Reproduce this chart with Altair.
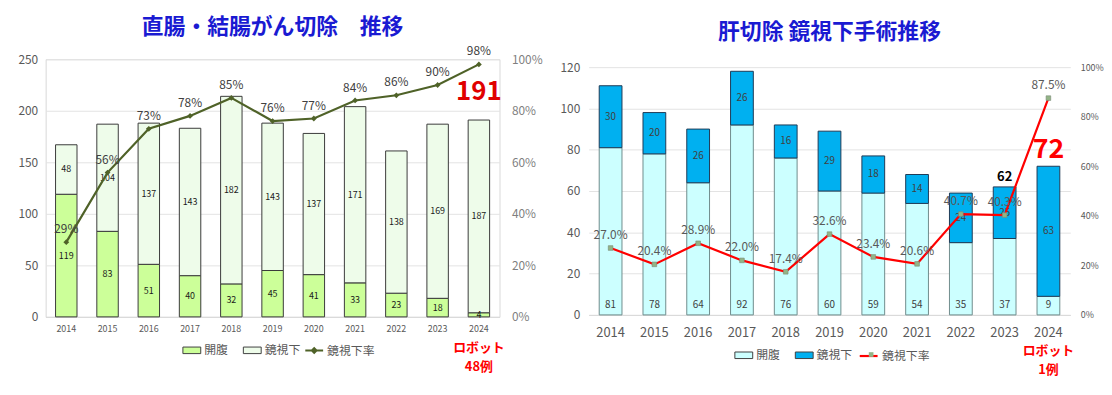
import altair as alt
import pandas as pd

FONT = "Noto Sans CJK JP"

years = ["2014", "2015", "2016", "2017", "2018", "2019", "2020", "2021", "2022", "2023", "2024"]
series = ["開腹", "鏡視下"]
rate_name = "鏡視下率"
marker_key = "marker"

# 直腸・結腸がん切除
colo_open = [119, 83, 51, 40, 32, 45, 41, 33, 23, 18, 4]
colo_lap = [48, 104, 137, 143, 182, 143, 137, 171, 138, 169, 187]
colo_rate = [29, 56, 73, 78, 85, 76, 77, 84, 86, 90, 98]

# 肝切除
liver_open = [81, 78, 64, 92, 76, 60, 59, 54, 35, 37, 9]
liver_lap = [30, 20, 26, 26, 16, 29, 18, 14, 24, 25, 63]
liver_rate = [27.0, 20.4, 28.9, 22.0, 17.4, 32.6, 23.4, 20.6, 40.7, 40.3, 87.5]

left_title = "直腸・結腸がん切除　推移"
right_title = "肝切除 鏡視下手術推移"
robot_left = ["ロボット", "48例"]
robot_right = ["ロボット", "1例"]

RECT = "M-1.5,-0.55H1.5V0.55H-1.5Z"
LINE_DIAMOND = "M-1.5,0H1.5M-0.4,0L0,-0.4L0.4,0L0,0.4Z"
LINE_ONLY = "M-1.5,0H1.5"


def bars_df(open_, lap):
    rows = []
    for y, o, l in zip(years, open_, lap):
        rows.append({"year": y, "series": series[0], "ord": 0, "value": o})
        rows.append({"year": y, "series": series[1], "ord": 1, "value": l})
    return pd.DataFrame(rows)


def stacked(chart):
    return chart.transform_stack(
        stack="value", groupby=["year"], as_=["v0", "v1"],
        sort=[alt.SortField("ord", order="ascending")]
    ).transform_calculate(mid="(datum.v0 + datum.v1) / 2")


def red_note(text, scale, dy):
    return alt.Chart(pd.DataFrame({"year": ["2024"], "t": [text], "zero": [0]})).mark_text(
        fontSize=13, fontWeight="bold", color="#ff0000", dy=dy).encode(
        x="year:N", y=alt.Y("zero:Q", scale=scale), text="t:N")


# ---------------- left panel ----------------
dfL = bars_df(colo_open, colo_lap)
rateL = pd.DataFrame({"year": years, "rate": colo_rate,
                      "label": [f"{r}%" for r in colo_rate], "name": rate_name})
totL = pd.DataFrame({"year": years, "total": [o + l for o, l in zip(colo_open, colo_lap)]})

xL = alt.X("year:N", title=None,
           scale=alt.Scale(paddingInner=0.48, paddingOuter=0.24),
           axis=alt.Axis(labelAngle=0, labelFontSize=9, labelColor="#595959", ticks=False,
                         domainColor="#d9d9d9", labelPadding=8))
yL = alt.Scale(domain=[0, 250])

barsL = alt.Chart(dfL).mark_bar(stroke="#3a3a3a", strokeWidth=1).encode(
    x=xL,
    y=alt.Y("value:Q", stack="zero", title=None, scale=yL,
            axis=alt.Axis(values=[0, 50, 100, 150, 200, 250], labelFontSize=12,
                          labelColor="#595959", domain=False, ticks=False,
                          gridColor="#e3e3e3", labelPadding=8)),
    fill=alt.Fill("series:N", scale=alt.Scale(domain=series, range=["#ccff99", "#eefcea"]),
                  legend=alt.Legend(title=None, orient="none", legendX=141, legendY=287,
                                    direction="horizontal", symbolType=RECT, symbolSize=144,
                                    symbolStrokeColor="#404040", symbolStrokeWidth=1,
                                    labelFontSize=12, labelColor="#595959", labelOffset=6,
                                    columnPadding=12)),
    order=alt.Order("ord:Q"),
)
barTextL = stacked(alt.Chart(dfL)).mark_text(fontSize=9, color="#1a1a1a").encode(
    x="year:N", y=alt.Y("mid:Q", scale=yL), text="value:Q")
bigL = alt.Chart(totL).transform_filter(alt.datum.year == "2024").mark_text(
    fontSize=26, fontWeight="bold", color="#e00000", dy=-28).encode(
    x="year:N", y=alt.Y("total:Q", scale=yL), text="total:Q")
robotL1 = red_note(robot_left[0], yL, 31)
robotL2 = red_note(robot_left[1], yL, 51)

lineL = alt.Chart(rateL).mark_line(strokeWidth=2.2).encode(
    x="year:N",
    y=alt.Y("rate:Q", title=None, scale=alt.Scale(domain=[0, 100]),
            axis=alt.Axis(orient="right", values=[0, 20, 40, 60, 80, 100],
                          labelExpr="datum.value + '%'", labelFontSize=12,
                          labelColor="#7f7f7f", domain=False, ticks=False, grid=False,
                          labelPadding=12)),
    stroke=alt.Stroke("name:N", scale=alt.Scale(domain=[rate_name], range=["#4f6228"]),
                      legend=alt.Legend(title=None, orient="none", legendX=264, legendY=287,
                                        symbolType=LINE_DIAMOND, symbolSize=144,
                                        symbolStrokeWidth=2, symbolFillColor="#4f6228",
                                        labelFontSize=12, labelColor="#595959", labelOffset=6)),
)
ptsL = alt.Chart(rateL).mark_point(shape="diamond", filled=True, size=34, color="#4f6228",
                                   opacity=1).encode(x="year:N", y="rate:Q")
rateTextL = alt.Chart(rateL).mark_text(fontSize=12, color="#404040", dy=-13).encode(
    x="year:N", y="rate:Q", text="label:N")

left = alt.layer(
    alt.layer(barsL, barTextL, bigL, robotL1, robotL2),
    alt.layer(lineL, ptsL, rateTextL),
).resolve_scale(y="independent").properties(
    width=458, height=260,
    title=alt.TitleParams(left_title, fontSize=22, fontWeight="bold", color="#1a1ad2",
                          anchor="middle", offset=7, font=FONT),
    view=alt.ViewBackground(stroke="#d9d9d9"),
)

# ---------------- right panel ----------------
dfR = bars_df(liver_open, liver_lap)
rateR = pd.DataFrame({"year": years, "rate": liver_rate,
                      "label": [f"{r:.1f}%" for r in liver_rate], "name": rate_name,
                      "mk": marker_key})
totR = pd.DataFrame({"year": years, "total": [o + l for o, l in zip(liver_open, liver_lap)]})

HR = 258
yR = alt.Scale(domain=[0, 120], range=[HR, 8])
xR = alt.X("year:N", title=None,
           scale=alt.Scale(paddingInner=0.48, paddingOuter=0.24),
           axis=alt.Axis(labelAngle=0, labelFontSize=13, labelColor="#595959", ticks=False,
                         domainColor="#d9d9d9", labelPadding=12))

barsR = alt.Chart(dfR).mark_bar(strokeWidth=1).encode(
    x=xR,
    y=alt.Y("value:Q", stack="zero", title=None, scale=yR,
            axis=alt.Axis(values=[0, 20, 40, 60, 80, 100, 120], labelFontSize=12,
                          labelColor="#595959", domain=False, ticks=False,
                          gridColor="#e3e3e3", labelPadding=9)),
    fill=alt.Fill("series:N", scale=alt.Scale(domain=series, range=["#ccffff", "#00b0f0"]),
                  legend=alt.Legend(title=None, orient="none", legendX=150, legendY=292,
                                    direction="horizontal", symbolType=RECT, symbolSize=144,
                                    symbolStrokeColor="#404040", symbolStrokeWidth=1,
                                    labelFontSize=12, labelColor="#595959", labelOffset=6,
                                    columnPadding=12)),
    stroke=alt.condition(alt.datum.series == series[0], alt.value("#6f8c8c"), alt.value("#1f3a55")),
    order=alt.Order("ord:Q"),
)
lapTextR = stacked(alt.Chart(dfR)).transform_filter(alt.datum.series == series[1]).mark_text(
    fontSize=10, color="#404040").encode(x="year:N", y=alt.Y("mid:Q", scale=yR), text="value:Q")
openTextR = alt.Chart(dfR).transform_filter(alt.datum.series == series[0]).transform_calculate(
    zero="0").mark_text(fontSize=10, color="#404040", dy=-10).encode(
    x="year:N", y=alt.Y("zero:Q", scale=yR), text="value:Q")
tot62 = alt.Chart(totR).transform_filter(alt.datum.year == "2023").mark_text(
    fontSize=13, fontWeight="bold", color="#000000", dy=-10).encode(
    x="year:N", y=alt.Y("total:Q", scale=yR), text="total:Q")
big72 = alt.Chart(totR).transform_filter(alt.datum.year == "2024").mark_text(
    fontSize=27, fontWeight="bold", color="#ff0000", dy=-16).encode(
    x="year:N", y=alt.Y("total:Q", scale=yR), text="total:Q")
robotR1 = red_note(robot_right[0], yR, 36)
robotR2 = red_note(robot_right[1], yR, 56)

yRate = alt.Scale(domain=[0, 100], range=[HR, 8])
lineR = alt.Chart(rateR).mark_line(strokeWidth=2.2).encode(
    x="year:N",
    y=alt.Y("rate:Q", title=None, scale=yRate,
            axis=alt.Axis(orient="right", values=[0, 20, 40, 60, 80, 100],
                          labelExpr="datum.value + '%'", labelFontSize=9,
                          labelColor="#595959", domain=False, ticks=False, grid=False,
                          labelPadding=10)),
    stroke=alt.Stroke("name:N", scale=alt.Scale(domain=[rate_name], range=["#ff0000"]),
                      legend=alt.Legend(title=None, orient="none", legendX=275, legendY=292,
                                        symbolType=LINE_ONLY, symbolSize=144,
                                        symbolStrokeWidth=2.2,
                                        labelFontSize=12, labelColor="#595959", labelOffset=6)),
)
ptsR = alt.Chart(rateR).mark_point(filled=True, size=22, opacity=1, stroke="#7a8a78",
                                   strokeWidth=0.6).encode(
    x="year:N", y=alt.Y("rate:Q", scale=yRate),
    shape=alt.Shape("mk:N", scale=alt.Scale(domain=[marker_key], range=["square"]),
                    legend=alt.Legend(title=None, orient="none", legendX=279, legendY=292,
                                      symbolSize=22, symbolFillColor="#93b486",
                                      symbolStrokeColor="#7a8a78", symbolStrokeWidth=0.6,
                                      labelExpr="' '", labelFontSize=12)),
    fill=alt.value("#93b486"),
)
rateTextR = alt.Chart(rateR).mark_text(fontSize=12, color="#595959", dy=-13).encode(
    x="year:N", y=alt.Y("rate:Q", scale=yRate), text="label:N")

right = alt.layer(
    alt.layer(barsR, lapTextR, openTextR, tot62, big72, robotR1, robotR2),
    alt.layer(lineR, ptsR, rateTextR),
).resolve_scale(y="independent").properties(
    width=486, height=HR,
    title=alt.TitleParams(right_title, fontSize=22, fontWeight="bold", color="#1a1ad2",
                          anchor="middle", offset=15, font=FONT),
    view=alt.ViewBackground(stroke="transparent"),
)

chart = alt.hconcat(left, right, spacing=16).resolve_scale(
    fill="independent", stroke="independent", shape="independent"
).properties(
    padding={"left": 9, "top": 5, "right": 0, "bottom": 0},
    background="white",
).configure(font=FONT)

chart.save("out.html", embed_options={"renderer": "svg", "actions": False})
